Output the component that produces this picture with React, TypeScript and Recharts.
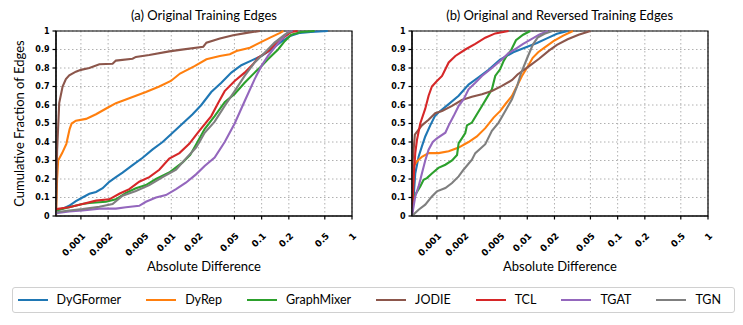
import React from 'react';
import { LineChart, Line, XAxis, YAxis, CartesianGrid, ReferenceArea } from 'recharts';

type Pair = [number, number];

const models = ['DyGFormer', 'DyRep', 'GraphMixer', 'JODIE', 'TCL', 'TGAT', 'TGN'];
const colors = ['#1f77b4', '#ff7f0e', '#2ca02c', '#8c564b', '#d62728', '#9467bd', '#7f7f7f'];

const xTicks = [0.001, 0.002, 0.005, 0.01, 0.02, 0.05, 0.1, 0.2, 0.5, 1];
const xTickLabels = ['0.001', '0.002', '0.005', '0.01', '0.02', '0.05', '0.1', '0.2', '0.5', '1'];
const yTicks = [0, 0.1, 0.2, 0.3, 0.4, 0.5, 0.6, 0.7, 0.8, 0.9, 1];
const yTickLabels = ['0', '0.1', '0.2', '0.3', '0.4', '0.5', '0.6', '0.7', '0.8', '0.9', '1'];
const X_MIN = 0.00053;

// (a) Original Training Edges — [absolute difference, cumulative fraction]
const dygformerA: Pair[] = [[0.00053, 0.03], [0.00063, 0.04], [0.00074, 0.055], [0.00088, 0.08], [0.00104, 0.1], [0.00124, 0.12], [0.00147, 0.13], [0.00174, 0.15], [0.00206, 0.185], [0.00244, 0.21], [0.00289, 0.235], [0.00373, 0.275], [0.00482, 0.315], [0.00622, 0.36], [0.00802, 0.4], [0.01035, 0.45], [0.01335, 0.5], [0.01722, 0.55], [0.0215, 0.6], [0.0277, 0.67], [0.0358, 0.72], [0.0462, 0.775], [0.0596, 0.815], [0.0768, 0.84], [0.0992, 0.865], [0.128, 0.9], [0.16, 0.937], [0.206, 0.973], [0.266, 0.99], [0.35, 0.995], [0.54, 1]];
const dyrepA: Pair[] = [[0.00053, 0], [0.000545, 0.2], [0.00056, 0.3], [0.00062, 0.34], [0.00069, 0.39], [0.00075, 0.47], [0.00079, 0.5], [0.00088, 0.515], [0.00114, 0.525], [0.00147, 0.55], [0.00197, 0.585], [0.00244, 0.61], [0.00315, 0.63], [0.00406, 0.65], [0.00524, 0.67], [0.00737, 0.7], [0.0099, 0.73], [0.0125, 0.77], [0.0181, 0.81], [0.0245, 0.847], [0.0345, 0.865], [0.0445, 0.874], [0.0527, 0.892], [0.0742, 0.91], [0.0958, 0.937], [0.124, 0.964], [0.16, 0.99], [0.174, 1]];
const graphmixerA: Pair[] = [[0.00053, 0.03], [0.00074, 0.047], [0.00104, 0.065], [0.00124, 0.07], [0.00189, 0.077], [0.00244, 0.09], [0.00315, 0.125], [0.00406, 0.15], [0.00524, 0.167], [0.00677, 0.2], [0.0095, 0.235], [0.01335, 0.29], [0.0162, 0.33], [0.0195, 0.4], [0.0234, 0.47], [0.0302, 0.54], [0.039, 0.615], [0.0503, 0.66], [0.0648, 0.72], [0.0837, 0.775], [0.0992, 0.81], [0.1175, 0.847], [0.152, 0.9], [0.18, 0.945], [0.213, 0.98], [0.275, 0.995], [0.386, 1]];
const jodieA: Pair[] = [[0.00053, 0], [0.000545, 0.35], [0.000575, 0.61], [0.000627, 0.7], [0.000682, 0.74], [0.000743, 0.76], [0.00088, 0.78], [0.001, 0.79], [0.00124, 0.8], [0.0016, 0.82], [0.00224, 0.823], [0.00244, 0.84], [0.00373, 0.85], [0.00406, 0.86], [0.0057, 0.87], [0.0095, 0.89], [0.0125, 0.898], [0.0226, 0.915], [0.0245, 0.937], [0.0345, 0.96], [0.0484, 0.977], [0.0683, 0.99], [0.0958, 1]];
const tclA: Pair[] = [[0.00053, 0.037], [0.00074, 0.047], [0.00104, 0.065], [0.00147, 0.083], [0.00206, 0.09], [0.00266, 0.12], [0.00343, 0.145], [0.00442, 0.185], [0.00571, 0.21], [0.00737, 0.25], [0.0095, 0.31], [0.0123, 0.34], [0.0158, 0.39], [0.0204, 0.46], [0.0277, 0.54], [0.0329, 0.61], [0.039, 0.675], [0.0503, 0.73], [0.0648, 0.775], [0.0802, 0.82], [0.0911, 0.855], [0.1175, 0.89], [0.152, 0.94], [0.18, 0.97], [0.213, 0.995], [0.25, 1]];
const tgatA: Pair[] = [[0.00053, 0.015], [0.00074, 0.025], [0.00104, 0.03], [0.0016, 0.04], [0.00244, 0.04], [0.00315, 0.047], [0.00442, 0.055], [0.00524, 0.077], [0.00677, 0.1], [0.00873, 0.113], [0.0113, 0.145], [0.0145, 0.18], [0.0188, 0.225], [0.0234, 0.27], [0.0302, 0.316], [0.039, 0.4], [0.0503, 0.5], [0.0648, 0.62], [0.0837, 0.74], [0.0992, 0.81], [0.1175, 0.865], [0.139, 0.91], [0.165, 0.955], [0.196, 0.995], [0.22, 1]];
const tgnA: Pair[] = [[0.00053, 0.02], [0.00074, 0.03], [0.00104, 0.037], [0.0016, 0.05], [0.00224, 0.065], [0.00289, 0.11], [0.00406, 0.135], [0.00571, 0.167], [0.00802, 0.21], [0.0113, 0.25], [0.0145, 0.31], [0.0188, 0.37], [0.0205, 0.4], [0.0234, 0.45], [0.0302, 0.51], [0.039, 0.595], [0.0503, 0.675], [0.0648, 0.757], [0.0837, 0.83], [0.108, 0.883], [0.139, 0.937], [0.18, 0.98], [0.213, 1]];

// (b) Original and Reversed Training Edges
const dygformerB: Pair[] = [[0.00053, 0.02], [0.000552, 0.1], [0.000576, 0.23], [0.000627, 0.32], [0.000682, 0.376], [0.000743, 0.43], [0.000844, 0.49], [0.00095, 0.54], [0.00104, 0.56], [0.00135, 0.605], [0.00174, 0.65], [0.00224, 0.71], [0.00289, 0.75], [0.00373, 0.79], [0.005, 0.845], [0.007, 0.885], [0.01, 0.915], [0.0128, 0.935], [0.0165, 0.96], [0.0213, 0.985], [0.028, 1]];
const dyrepB: Pair[] = [[0.00053, 0], [0.000552, 0.27], [0.000601, 0.295], [0.000682, 0.32], [0.000809, 0.34], [0.00104, 0.34], [0.00135, 0.35], [0.00174, 0.37], [0.00224, 0.4], [0.00277, 0.43], [0.00343, 0.475], [0.00424, 0.532], [0.00503, 0.568], [0.00571, 0.604], [0.00677, 0.649], [0.00769, 0.703], [0.00873, 0.757], [0.0099, 0.8], [0.0115, 0.855], [0.0132, 0.885], [0.0155, 0.91], [0.0195, 0.945], [0.025, 0.975], [0.032, 1]];
const graphmixerB: Pair[] = [[0.00053, 0.08], [0.000576, 0.115], [0.000654, 0.16], [0.000712, 0.196], [0.000775, 0.205], [0.00088, 0.23], [0.00104, 0.26], [0.00124, 0.277], [0.00147, 0.3], [0.00167, 0.33], [0.00174, 0.394], [0.00189, 0.42], [0.00206, 0.448], [0.00215, 0.49], [0.00244, 0.505], [0.00277, 0.55], [0.00315, 0.595], [0.00358, 0.64], [0.00406, 0.685], [0.00442, 0.757], [0.005, 0.793], [0.0055, 0.84], [0.006, 0.87], [0.0066, 0.895], [0.0075, 0.95], [0.009, 0.98], [0.0108, 1]];
const jodieB: Pair[] = [[0.00053, 0], [0.00054, 0.3], [0.00057, 0.44], [0.000682, 0.49], [0.000809, 0.52], [0.000958, 0.556], [0.00114, 0.568], [0.00147, 0.595], [0.00189, 0.627], [0.00244, 0.645], [0.00315, 0.658], [0.00406, 0.676], [0.00524, 0.703], [0.0068, 0.735], [0.0078, 0.765], [0.0105, 0.81], [0.0135, 0.85], [0.0175, 0.895], [0.0213, 0.925], [0.028, 0.955], [0.037, 0.98], [0.05, 1]];
const tclB: Pair[] = [[0.00053, 0.02], [0.00054, 0.08], [0.000552, 0.2], [0.000576, 0.34], [0.000601, 0.41], [0.000654, 0.5], [0.000743, 0.58], [0.000809, 0.65], [0.00088, 0.7], [0.001, 0.73], [0.00114, 0.757], [0.00135, 0.83], [0.0016, 0.865], [0.00206, 0.9], [0.00266, 0.93], [0.00343, 0.964], [0.00442, 0.987], [0.0062, 1]];
const tgatB: Pair[] = [[0.00053, 0], [0.000576, 0.106], [0.000627, 0.16], [0.000682, 0.23], [0.000743, 0.3], [0.000809, 0.358], [0.0009, 0.4], [0.001, 0.42], [0.00124, 0.45], [0.00135, 0.49], [0.00153, 0.54], [0.00174, 0.595], [0.00197, 0.63], [0.00224, 0.685], [0.00266, 0.72], [0.00315, 0.757], [0.00406, 0.8], [0.0052, 0.845], [0.0062, 0.88], [0.0075, 0.905], [0.009, 0.93], [0.011, 0.955], [0.0135, 0.98], [0.017, 1]];
const tgnB: Pair[] = [[0.00053, 0], [0.000627, 0.034], [0.000743, 0.061], [0.00088, 0.106], [0.001, 0.133], [0.00124, 0.151], [0.00147, 0.178], [0.00174, 0.214], [0.00197, 0.25], [0.00244, 0.304], [0.00266, 0.34], [0.00343, 0.388], [0.00406, 0.46], [0.00482, 0.505], [0.00571, 0.568], [0.00677, 0.631], [0.0077, 0.7], [0.0085, 0.77], [0.0099, 0.85], [0.0115, 0.925], [0.013, 0.964], [0.0155, 0.985], [0.019, 1]];

const panelA = [dygformerA, dyrepA, graphmixerA, jodieA, tclA, tgatA, tgnA];
const panelB = [dygformerB, dyrepB, graphmixerB, jodieB, tclB, tgatB, tgnB];

const TEXT_FONT = 'Lato, "Open Sans", sans-serif';
const TICK_FONT = '"DejaVu Sans", sans-serif';

const toPoints = (arr: Pair[]) => arr.map(([x, y]) => ({ x, y }));

const XTick = (props: any) => {
  const { x, y, payload } = props;
  const label = xTickLabels[xTicks.indexOf(payload.value)];
  return (
    <text
      transform={`translate(${x + 5}, ${y + 15}) rotate(-45)`}
      textAnchor="end"
      fontSize={9}
      fontWeight="bold"
      fontFamily={TICK_FONT}
      fill="#000"
    >
      {label}
    </text>
  );
};

const Panel = ({ series }: { series: Pair[][] }) => (
  <LineChart width={370} height={280} margin={{ top: 31, right: 18, bottom: 9, left: 26 }}>
    <CartesianGrid stroke="#b0b0b0" strokeDasharray="1.5 2.5" />
    <XAxis
      dataKey="x"
      type="number"
      scale="log"
      domain={[X_MIN, 1]}
      allowDataOverflow
      ticks={xTicks}
      interval={0}
      height={55}
      tickSize={3.5}
      stroke="#000"
      strokeWidth={1.2}
      tick={(p: any) => <XTick {...p} />}
      label={{
        value: 'Absolute Difference',
        position: 'insideBottom',
        offset: 0,
        fill: '#000',
        fontSize: 13,
        fontFamily: TEXT_FONT,
      }}
    />
    <YAxis
      type="number"
      domain={[0, 1]}
      ticks={yTicks}
      interval={0}
      width={30}
      tickSize={3.5}
      tickMargin={3}
      stroke="#000"
      strokeWidth={1.2}
      tickFormatter={(v: number) => yTickLabels[yTicks.indexOf(v)]}
      tick={{ fontSize: 8, fontWeight: 'bold', fontFamily: TICK_FONT, fill: '#000' }}
    />
    <ReferenceArea x1={X_MIN} x2={1} y1={0} y2={1} fill="none" stroke="#000" strokeWidth={1.2} ifOverflow="visible" />
    {series.map((d, i) => (
      <Line
        key={models[i]}
        data={toPoints(d)}
        dataKey="y"
        name={models[i]}
        type="linear"
        stroke={colors[i]}
        strokeWidth={2.1}
        dot={false}
        activeDot={false}
        isAnimationActive={false}
      />
    ))}
  </LineChart>
);

export default function App() {
  return (
    <div
      style={{
        position: 'absolute',
        left: 0,
        top: 0,
        width: 743,
        height: 325,
        background: '#fff',
        fontFamily: TEXT_FONT,
        overflow: 'hidden',
      }}
    >
      <div style={{ position: 'absolute', left: 0, top: 0 }}>
        <Panel series={panelA} />
      </div>
      <div style={{ position: 'absolute', left: 355.7, top: 0 }}>
        <Panel series={panelB} />
      </div>
      <svg width={743} height={325} style={{ position: 'absolute', left: 0, top: 0, pointerEvents: 'none' }}>
        <text x={204} y={19.5} textAnchor="middle" fontSize={13} fontFamily={TEXT_FONT} fill="#000">
          (a) Original Training Edges
        </text>
        <text x={559.7} y={19.5} textAnchor="middle" fontSize={13} fontFamily={TEXT_FONT} fill="#000">
          (b) Original and Reversed Training Edges
        </text>
        <text
          transform="translate(24, 123.6) rotate(-90)"
          textAnchor="middle"
          fontSize={13}
          fontFamily={TEXT_FONT}
          fill="#000"
        >
          Cumulative Fraction of Edges
        </text>
      </svg>
      <div
        style={{
          position: 'absolute',
          left: 11.5,
          top: 287,
          width: 723,
          height: 26,
          boxSizing: 'border-box',
          border: '1px solid #d0d0d0',
          borderRadius: 3,
          display: 'flex',
          alignItems: 'center',
          paddingLeft: 5,
        }}
      >
        {models.map((m, i) => (
          <div key={m} style={{ display: 'flex', alignItems: 'center', marginRight: i < models.length - 1 ? 25 : 0 }}>
            <div style={{ width: 30, height: 2.5, background: colors[i], marginRight: 9 }} />
            <span style={{ fontSize: 12.5, color: '#000', lineHeight: '14px' }}>{m}</span>
          </div>
        ))}
      </div>
    </div>
  );
}
